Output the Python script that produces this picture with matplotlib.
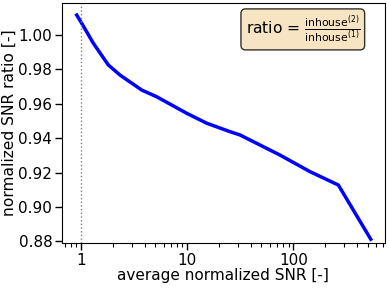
import numpy as np
from matplotlib import pyplot as plt

# данные
snr = [0.911, 1.015, 1.306, 1.807, 2.33, 3.73, 5.16, 9.89, 15.3, 25.3, 31.4,
       74.8, 143.0, 265.0, 535.0]
ratio = [1.0116, 1.0068, 0.9952, 0.9826, 0.9767, 0.968, 0.9641, 0.9545,
         0.9487, 0.9438, 0.9419, 0.9302, 0.9206, 0.9128, 0.8813]
yticks = [0.88, 0.90, 0.92, 0.94, 0.96, 0.98, 1.00]

fig = plt.figure(figsize=(3.89, 2.93), dpi=100)
ax = fig.add_axes([62 / 389, 1 - 243 / 293, (384.5 - 62) / 389, 240 / 293])

ax.plot(snr, ratio, color='blue', lw=2.5)
ax.axvline(1, color='gray', lw=1.0, ls=':')
ax.set_xscale('log')
ax.set_xlim(0.662, 721)
ax.set_ylim(0.8791, 1.0186)
ax.set_yticks(yticks)
ax.set_yticklabels(['%.2f' % v for v in yticks])
ax.set_xticks([1, 10, 100])
ax.set_xticklabels(['1', '10', '100'])

ax.tick_params(axis='both', which='major', labelsize=11, length=5, width=1, pad=2)
ax.tick_params(axis='x', which='minor', length=3, width=0.8)
ax.set_xlabel('average normalized SNR [-]', fontsize=11, labelpad=0)
ax.set_ylabel('normalized SNR ratio [-]', fontsize=11.2, labelpad=1)

ax.text(0.924, 0.956, r'ratio = $\frac{\mathrm{inhouse}^{(2)}}{\mathrm{inhouse}^{(1)}}$',
        transform=ax.transAxes, ha='right', va='top', fontsize=11.2,
        bbox=dict(boxstyle='round,pad=0.3', facecolor='wheat', alpha=0.8))

plt.savefig('out.png', dpi=100)
